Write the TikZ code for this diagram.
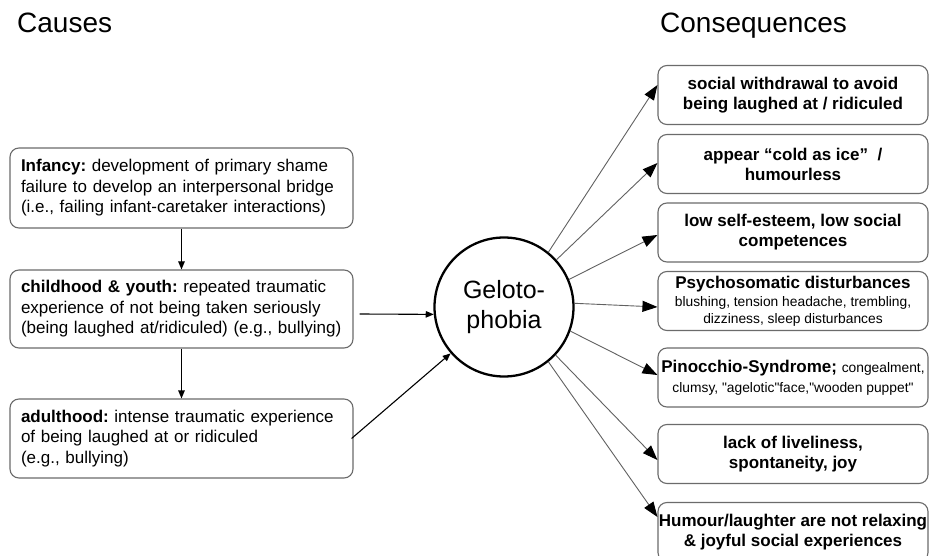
\documentclass[tikz,border=0pt]{standalone}
\usepackage{fontspec}
\setmainfont{Liberation Sans}
\usetikzlibrary{arrows.meta}
\frenchspacing
\hyphenpenalty=10000
\exhyphenpenalty=10000
\newcommand\sqq{\XeTeXglyph\XeTeXglyphindex "quotedbl"\relax}
\begin{document}
\begin{tikzpicture}[x=1pt,y=-1pt,
  causebox/.style={draw=black!58, line width=1.1pt, rounded corners=9pt,
    minimum width=343pt, text width=321pt, inner xsep=11pt, inner ysep=0pt,
    align=left, font=\fontsize{17}{20.5}\selectfont},
  consbox/.style={draw=black!58, line width=1.1pt, rounded corners=9pt,
    minimum width=270pt, minimum height=59pt, inner xsep=0.5pt, inner ysep=0pt,
    align=center, font=\fontsize{17}{20}\selectfont\bfseries},
  title/.style={anchor=base west, inner sep=0pt, font=\fontsize{28}{32}\selectfont},
  larrow/.style={line width=1.1pt, -{Triangle[length=8pt,width=6.5pt]}},
  rarrow/.style={draw=black!62, line width=0.9pt, -{Triangle[length=15pt,width=11pt,color=black]}}]
\clip (0,0) rectangle (930,556);
\fill[white] (0,0) rectangle (930,556);

\node[title] (tc) at (17,33) {Causes};
\node[title] (tq) at (660,33) {Consequences};

% causes
\node[causebox, minimum height=80pt] (b1) at (181.5,188)
  {\textbf{Infancy:} development of primary shame\\failure to develop an interpersonal bridge\\(i.e., failing infant-caretaker interactions)};
\node[causebox, minimum height=78pt] (b2) at (181.5,309)
  {\textbf{childhood \& youth:} repeated traumatic\\experience of not being taken seriously\\(being laughed at/ridiculed) (e.g., bullying)};
\node[causebox, minimum height=79pt] (b3) at (181.5,438.5)
  {\textbf{adulthood:} intense traumatic experience\\of being laughed at or ridiculed\\(e.g., bullying)};

% centre
\node[circle, draw, line width=2.3pt, minimum size=139pt, inner sep=0pt, align=center,
  font=\fontsize{25}{30}\selectfont] (g) at (504,307) {Geloto-\\phobia};

% consequences
\node[consbox] (r1) at (793,95) {social withdrawal to avoid\\being laughed at / ridiculed};
\node[consbox] (r2) at (793,164) {appear “cold as ice”\ \ /\\humourless};
\node[consbox] (r3) at (793,232.5) {low self-esteem, low social\\competences};
\node[consbox, font=\fontsize{17}{17}\selectfont] (r4) at (793,301)
  {\textbf{Psychosomatic disturbances}\\[1pt]{\fontsize{13.8}{17}\selectfont blushing, tension headache, trembling,}\\{\fontsize{13.8}{17}\selectfont dizziness, sleep disturbances}};
\node[consbox, font=\fontsize{17}{20}\selectfont] (r5) at (793,377.5)
  {\textbf{Pinocchio-Syndrome;} {\fontsize{13.8}{17}\selectfont congealment,}\\{\fontsize{13.8}{17}\selectfont clumsy, \sqq agelotic\sqq face,\sqq wooden puppet\sqq}};
\node[consbox] (r6) at (793,454) {lack of liveliness,\\spontaneity, joy};
\node[consbox] (r7) at (793,532) {Humour/laughter are not relaxing\\\& joyful social experiences};

% cause arrows
\draw[larrow] (b1.south) -- (b2.north);
\draw[larrow] (b2.south) -- (b3.north);
\draw[larrow] ([xshift=6pt,yshift=-5pt]b2.east) -- (g.186);
\draw[larrow] ([xshift=-2pt]b3.east) -- (g.221);

% consequence arrows
\draw[rarrow] (g.51)  -- ([yshift=10pt]r1.west);
\draw[rarrow] (g.42)  -- ([yshift=1pt]r2.west);
\draw[rarrow] (g.23)  -- ([yshift=-2.5pt]r3.west);
\draw[rarrow] (g.3)   -- ([yshift=-6pt]r4.west);
\draw[rarrow] (g.-20) -- ([yshift=2.5pt]r5.west);
\draw[rarrow] (g.-43) -- ([yshift=-6pt]r6.west);
\draw[rarrow] (g.-51) -- ([yshift=15pt]r7.west);
\end{tikzpicture}
\end{document}
